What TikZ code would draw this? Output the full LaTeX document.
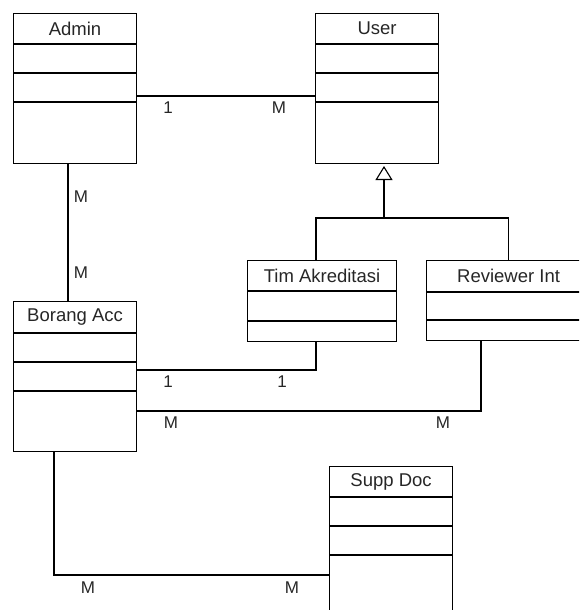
\documentclass[tikz,border=0pt]{standalone}
\usepackage{fontspec}
\setmainfont{Liberation Sans}
\usetikzlibrary{positioning, arrows.meta, calc}

\tikzset{
  umlbox/.style={draw, line width=1.1pt, anchor=north west, inner sep=0pt},
  umltitle/.style={font=\fontsize{18.5}{18.5}\selectfont, text=black!85, inner sep=0pt},
  mult/.style={font=\fontsize{17}{17}\selectfont, text=black!85, inner sep=0pt},
  link/.style={line width=1.1pt},
  isa/.style={line width=1.1pt, -{Triangle[open, length=14pt, width=17pt]}},
}

\begin{document}
\begin{tikzpicture}[x=1pt, y=-1pt]

  \useasboundingbox (0,0) rectangle (579,610);
  \clip (0,0) rectangle (579,610);

  % --- Classi ---
  \node[umlbox, minimum width=123pt, minimum height=150pt] (Admin) at (13,13) {};
  \node[umltitle] (AdminT) at ($(Admin.north)+(0,15.5)$) {Admin};
  \foreach \d in {31,60,89}{
    \draw[link] ([yshift=-\d pt]Admin.north west) -- ([yshift=-\d pt]Admin.north east);
  }

  \node[umlbox, minimum width=123pt, minimum height=150pt] (User) at (315,13) {};
  \node[umltitle] (UserT) at ($(User.north)+(0,15.5)$) {User};
  \foreach \d in {31,60,89}{
    \draw[link] ([yshift=-\d pt]User.north west) -- ([yshift=-\d pt]User.north east);
  }

  \node[umlbox, minimum width=149pt, minimum height=81pt] (Tim) at (247,260) {};
  \node[umltitle] (TimT) at ($(Tim.north)+(0,15.5)$) {Tim Akreditasi};
  \foreach \d in {31,61}{
    \draw[link] ([yshift=-\d pt]Tim.north west) -- ([yshift=-\d pt]Tim.north east);
  }

  \node[umlbox, minimum width=164pt, minimum height=80pt] (Reviewer) at (426,260) {};
  \node[umltitle] (ReviewerT) at ($(Reviewer.north)+(0,16)$) {Reviewer Int};
  \foreach \d in {32,60}{
    \draw[link] ([yshift=-\d pt]Reviewer.north west) -- ([yshift=-\d pt]Reviewer.north east);
  }

  \node[umlbox, minimum width=123pt, minimum height=150pt] (Borang) at (13,301) {};
  \node[umltitle] (BorangT) at ($(Borang.north)+(0,16)$) {Borang Acc};
  \foreach \d in {32,61,90}{
    \draw[link] ([yshift=-\d pt]Borang.north west) -- ([yshift=-\d pt]Borang.north east);
  }

  \node[umlbox, minimum width=123pt, minimum height=180pt] (Supp) at (329,466) {};
  \node[umltitle] (SuppT) at ($(Supp.north)+(0,15.5)$) {Supp Doc};
  \foreach \d in {31,60,89}{
    \draw[link] ([yshift=-\d pt]Supp.north west) -- ([yshift=-\d pt]Supp.north east);
  }

  % --- Relazioni ---
  \draw[link] ([yshift=-83pt]Admin.north east) -- ([yshift=-83pt]User.north west);
  \draw[link] ([xshift=55pt]Admin.south west) -- ([xshift=55pt]Borang.north west);
  \draw[link] ([xshift=69pt]Tim.south west) |- ([yshift=-69pt]Borang.north east);
  \draw[link] ([xshift=55pt]Reviewer.south west) |- ([yshift=-110pt]Borang.north east);
  \draw[link] ([xshift=41pt]Borang.south west) |- ([yshift=-109pt]Supp.north west);

  % --- Generalizzazione ---
  \coordinate (gen) at (384,218);
  \draw[isa] (gen) -- (384,166);
  \draw[link] ([xshift=69pt]Tim.north west) |- (gen) -| (Reviewer.north);

  % --- Molteplicita ---
  \node[mult] (m1) at (168,108) {1};
  \node[mult] (m2) at (279,108) {M};
  \node[mult] (m3) at (81,197) {M};
  \node[mult] (m4) at (81,273) {M};
  \node[mult] (m5) at (168,382) {1};
  \node[mult] (m6) at (282,382) {1};
  \node[mult] (m7) at (171,423) {M};
  \node[mult] (m8) at (443,423) {M};
  \node[mult] (m9) at (88,588) {M};
  \node[mult] (m10) at (292,588) {M};

\end{tikzpicture}
\end{document}
